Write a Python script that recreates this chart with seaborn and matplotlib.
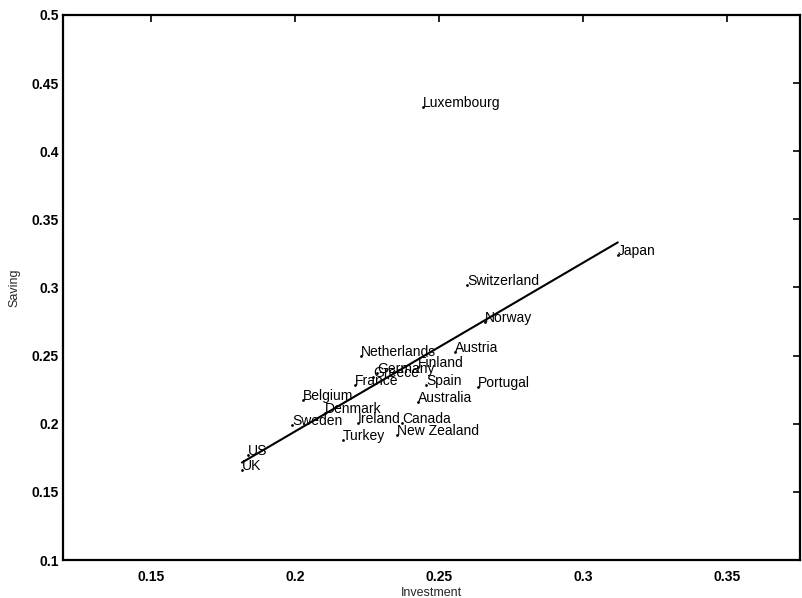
import matplotlib
matplotlib.use("Agg")
import matplotlib.pyplot as plt
import seaborn as sns
import numpy as np
import pandas as pd

countries = ["Luxembourg", "Japan", "Switzerland", "Norway", "Austria", "Netherlands",
             "Finland", "Germany", "Greece", "France", "Spain", "Portugal", "Australia",
             "Belgium", "Denmark", "Sweden", "Ireland", "Canada", "Turkey",
             "New Zealand", "US", "UK"]
investment = [0.2444, 0.3121, 0.2597, 0.2660, 0.2556, 0.2229,
              0.2427, 0.2285, 0.2271, 0.2208, 0.2455, 0.2635, 0.2427,
              0.2028, 0.2104, 0.1990, 0.2219, 0.2372, 0.2167,
              0.2354, 0.1837, 0.1816]
saving = [0.4325, 0.3239, 0.3018, 0.2747, 0.2527, 0.2497,
          0.2417, 0.2372, 0.2343, 0.2284, 0.2284, 0.2270, 0.2160,
          0.2174, 0.2079, 0.1991, 0.2006, 0.2006, 0.1881,
          0.1917, 0.1771, 0.1661]
fit_slope = 1.238
fit_intercept = -0.0533

xticks = [0.15, 0.2, 0.25, 0.3, 0.35]
xtick_labels = ["0.15", "0.2", "0.25", "0.3", "0.35"]
yticks = [0.1, 0.15, 0.2, 0.25, 0.3, 0.35, 0.4, 0.45, 0.5]
ytick_labels = ["0.1", "0.15", "0.2", "0.25", "0.3", "0.35", "0.4", "0.45", "0.5"]

df = pd.DataFrame({"country": countries, "Investment": investment, "Saving": saving})

sns.set_style("white")
plt.rcParams["font.family"] = ["Liberation Sans", "DejaVu Sans"]

fig = plt.figure(figsize=(8.03, 5.98), dpi=100)
ax = fig.add_axes([0.0785, 0.0635, 0.9175, 0.9115])

sns.scatterplot(data=df, x="Investment", y="Saving", ax=ax, color="black",
                s=4, marker="o", edgecolor="black", linewidth=0)

xs = np.array([df["Investment"].min(), df["Investment"].max()])
line_df = pd.DataFrame({"x": xs, "y": fit_intercept + fit_slope * xs})
sns.lineplot(data=line_df, x="x", y="y", ax=ax, color="black", linewidth=1.5)

for c, xv, yv in zip(countries, investment, saving):
    ax.text(xv, yv, c, fontsize=10, ha="left", va="baseline", color="black")

ax.set_xlim(0.1195, 0.3753)
ax.set_ylim(0.1, 0.5)
ax.set_xticks(xticks)
ax.set_xticklabels(xtick_labels, fontsize=10, fontweight="bold")
ax.set_yticks(yticks)
ax.set_yticklabels(ytick_labels, fontsize=10, fontweight="bold")
ax.tick_params(direction="in", length=5, width=1.2, top=True, right=True,
               colors="black")
ax.tick_params(axis="x", pad=7)
ax.tick_params(axis="y", pad=3)
for s in ax.spines.values():
    s.set_color("black")
    s.set_linewidth(1.6)
ax.set_xlabel("Investment", fontsize=9, labelpad=2)
ax.set_ylabel("Saving", fontsize=9, labelpad=8)

fig.savefig("out.png", dpi=100)
